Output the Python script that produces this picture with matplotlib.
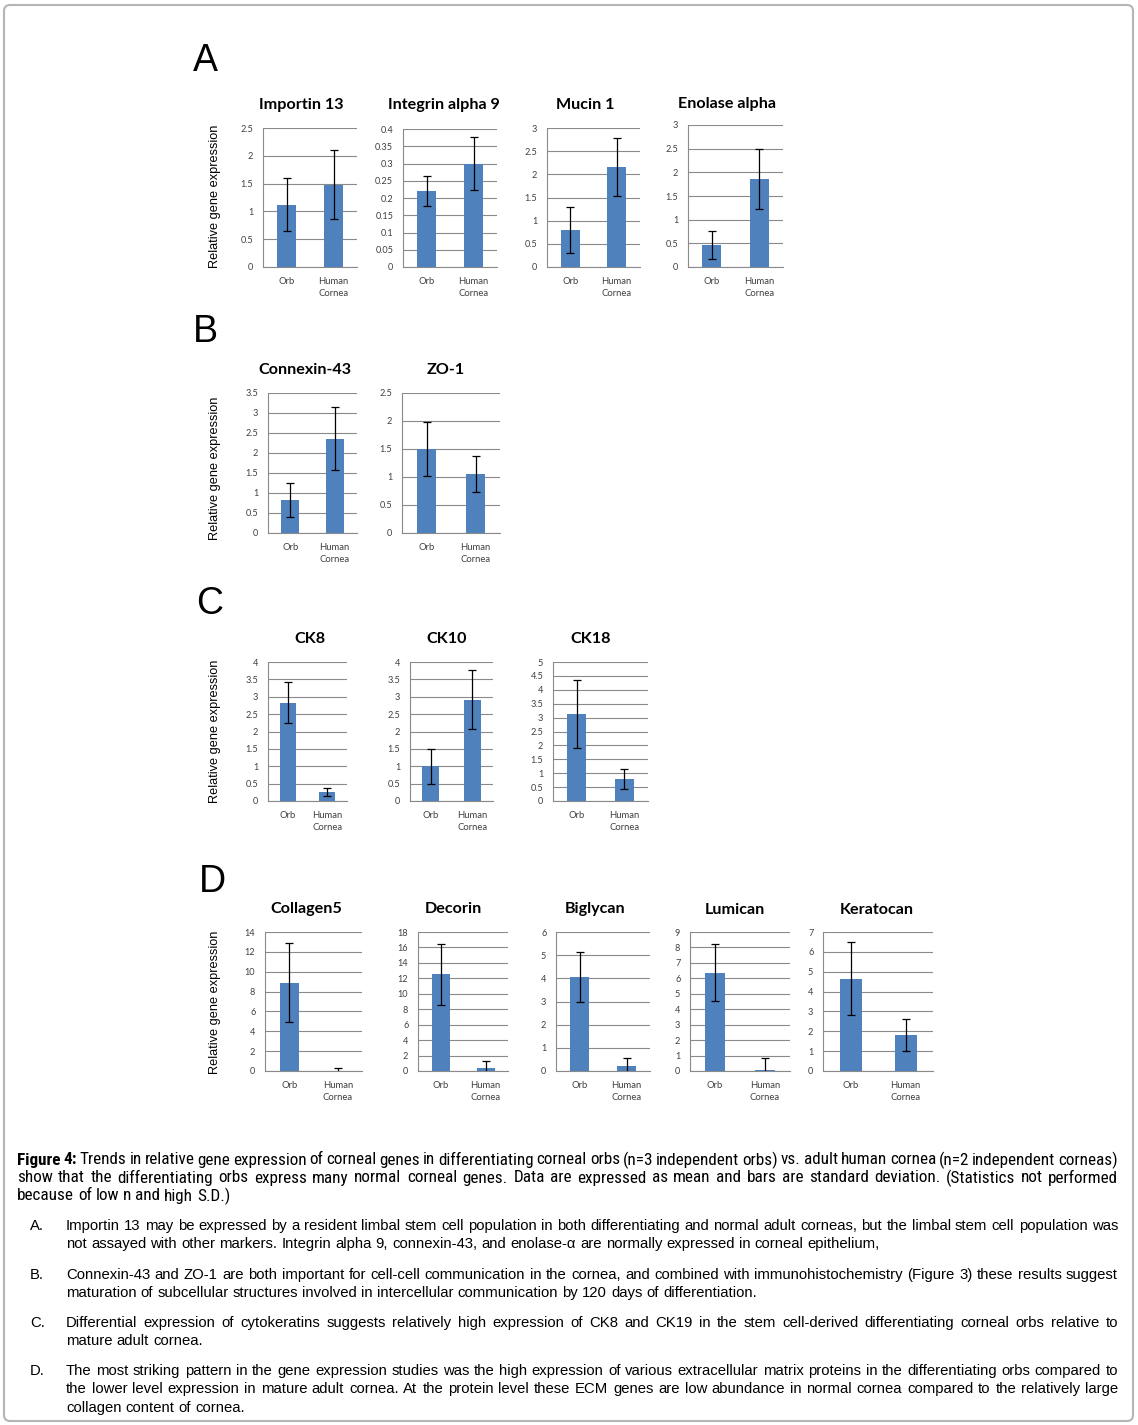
import matplotlib
matplotlib.use("Agg")
import matplotlib.pyplot as plt
from matplotlib import font_manager
from matplotlib.patches import FancyBboxPatch
from matplotlib.transforms import IdentityTransform
from matplotlib.font_manager import FontProperties

# ---------------- data ----------------
categories = ["Orb", "Human\nCornea"]

genes = ["Importin 13", "Integrin alpha 9", "Mucin 1", "Enolase alpha",
         "Connexin-43", "ZO-1",
         "CK8", "CK10", "CK18",
         "Collagen5", "Decorin", "Biglycan", "Lumican", "Keratocan"]
orb_mean = [1.12, 0.22, 0.80, 0.47, 0.83, 1.50, 2.83, 1.00, 3.12, 8.9, 12.5, 4.05, 6.37, 4.65]
orb_sd = [0.48, 0.043, 0.49, 0.30, 0.43, 0.49, 0.59, 0.51, 1.23, 4.0, 4.0, 1.07, 1.83, 1.85]
cornea_mean = [1.48, 0.30, 2.16, 1.86, 2.36, 1.06, 0.25, 2.91, 0.80, 0.05, 0.35, 0.20, 0.05, 1.82]
cornea_sd = [0.62, 0.078, 0.62, 0.63, 0.79, 0.32, 0.11, 0.85, 0.36, 0.28, 0.98, 0.38, 0.78, 0.79]
y_max = [2.5, 0.4, 3, 3, 3.5, 2.5, 4, 4, 5, 14, 18, 6, 9, 7]
y_step = [0.5, 0.05, 0.5, 0.5, 0.5, 0.5, 0.5, 0.5, 0.5, 2, 2, 1, 1, 1]
panel_letters = ["A", "B", "C", "D"]
ylabel_text = "Relative gene expression"

caption_para = [
    [("Figure 4:", True), ("Trends in relative gene expression of corneal genes in differentiating corneal orbs (n=3 independent orbs) vs. adult human cornea (n=2 independent corneas)", False)],
    [("show that the differentiating orbs express many normal corneal genes.  Data are expressed as mean and bars are standard deviation.  (Statistics not performed", False)],
    [("because of low n and high S.D.)", False)],
]
items = [
    ("A.", ["Importin 13 may be expressed by a resident limbal stem cell population in both differentiating and normal adult corneas, but the limbal stem cell population was",
            "not assayed with other markers.   Integrin alpha 9, connexin-43, and enolase-\u03b1 are normally expressed in corneal epithelium,"]),
    ("B.", ["Connexin-43 and ZO-1 are both important for cell-cell communication in the cornea, and combined with immunohistochemistry (Figure 3) these results suggest",
            "maturation of subcellular structures involved in intercellular communication by 120 days of differentiation."]),
    ("C.", ["Differential expression of cytokeratins suggests relatively high expression of CK8 and CK19 in the stem cell-derived differentiating corneal orbs relative to",
            "mature adult cornea."]),
    ("D.", ["The most striking pattern in the gene expression studies was the high expression of various extracellular matrix proteins in the differentiating orbs compared to",
            "the lower level expression in mature adult cornea.  At the protein level these ECM genes are low abundance in normal cornea compared to the relatively large",
            "collagen content of cornea."]),
]

# ---------------- layout (pixels) ----------------
W, H = 1138, 1425
axes_px = [
    (263, 128, 357, 267, 301, 105), (403, 129, 497, 267, 444, 105),
    (547, 128, 640, 267, 585, 105), (688, 125, 783, 267, 727, 104),
    (268, 393, 357, 533, 305, 370), (402, 393, 500, 533, 446, 370),
    (268, 662, 347, 801, 310, 639), (410, 662, 493, 801, 447, 639),
    (553, 662, 648, 801, 591, 639),
    (265, 932, 362, 1071, 306, 909), (418, 932, 508, 1071, 453, 909),
    (556, 932, 650, 1071, 595, 909), (690, 932, 790, 1071, 735, 910),
    (823, 932, 933, 1071, 877, 910),
]
letters_px = [(193, 61), (193, 332), (196, 604), (199, 882)]
ylabel_px = [(215, 196), (215, 468), (215, 731), (215, 1002)]

names = {f.name for f in font_manager.fontManager.ttflist}
title_font = "Lato" if "Lato" in names else "DejaVu Sans"

# look for a narrow / condensed sans font for the caption paragraph
narrow_reg = None
narrow_bold = None
pref = ["Liberation Sans Narrow", "Roboto Condensed", "Open Sans Condensed", "DejaVu Sans"]
for pname in pref:
    cands = [f for f in font_manager.fontManager.ttflist if f.name == pname and
             (("Narrow" in f.name) or ("Condensed" in f.name) or
              (str(f.stretch) in ("condensed", "semi-condensed")) or
              ("Condensed" in f.fname))]
    if cands:
        regs = [f for f in cands if f.weight in (400, "normal", "regular") and f.style == "normal"]
        bolds = [f for f in cands if f.weight in (700, "bold") and f.style == "normal"]
        if regs:
            narrow_reg = regs[0].fname
            narrow_bold = bolds[0].fname if bolds else regs[0].fname
            break

fig = plt.figure(figsize=(W / 100, H / 100), dpi=100)
fig.patch.set_facecolor("white")

def fx(x):
    return x / W

def fy(y):
    return 1 - y / H

GRID = "#8a8a8a"
BAR = "#4f81bd"

for i, g in enumerate(genes):
    l, t, r, b, tx, ty = axes_px[i]
    ax = fig.add_axes([fx(l), fy(b), (r - l) / W, (b - t) / H])
    ax.bar([0, 1], [orb_mean[i], cornea_mean[i]], width=0.4, color=BAR, zorder=3)
    ax.errorbar([0, 1], [orb_mean[i], cornea_mean[i]], yerr=[orb_sd[i], cornea_sd[i]],
                fmt="none", ecolor="black", elinewidth=0.9, capsize=3, capthick=0.9, zorder=4)
    ax.set_xlim(-0.5, 1.5)
    ax.set_ylim(0, y_max[i])
    n = int(round(y_max[i] / y_step[i]))
    ticks = [k * y_step[i] for k in range(n + 1)]
    ax.set_yticks(ticks)
    ax.set_yticklabels([("%g" % round(v, 3)) for v in ticks], fontsize=6.6, color="#404040",
                       fontfamily=title_font)
    ax.set_xticks([0, 1])
    ax.set_xticklabels(categories, fontsize=6.8, color="#404040", fontfamily=title_font,
                       linespacing=1.4, va="top")
    ax.tick_params(axis="both", length=0, pad=7)
    ax.yaxis.grid(True, color=GRID, lw=0.8, zorder=0)
    for s in ["top", "right"]:
        ax.spines[s].set_visible(False)
    ax.spines["left"].set_color(GRID)
    ax.spines["bottom"].set_color(GRID)
    ax.spines["left"].set_linewidth(0.8)
    ax.spines["bottom"].set_linewidth(0.8)
    ax.set_facecolor("none")
    fig.text(fx(tx), fy(ty), g, ha="center", va="center", fontsize=11.6,
             fontweight="bold", fontfamily=title_font, color="black")

for (x, y), L in zip(letters_px, panel_letters):
    fig.text(fx(x), fy(y), L, ha="left", va="center", fontsize=27,
             fontfamily="Liberation Sans", color="black")
for (x, y) in ylabel_px:
    fig.text(fx(x), fy(y), ylabel_text, rotation=90, ha="center", va="center",
             fontsize=9.2, fontfamily="Liberation Sans", color="black")

# ---------------- caption ----------------
renderer = fig.canvas.get_renderer()

def make_fp(kind, size, bold):
    if kind == "narrow" and narrow_reg is not None:
        return FontProperties(fname=narrow_bold if bold else narrow_reg, size=size)
    return FontProperties(family="Liberation Sans", size=size, weight="bold" if bold else "normal")

def measure(word, fp):
    t = fig.text(0, 0, word, fontproperties=fp)
    w = t.get_window_extent(renderer).width
    t.remove()
    return w

def calibrate(kind, sample, target, lo, hi):
    w10 = measure(sample, make_fp(kind, 10, False))
    s = 10 * target / w10
    return max(lo, min(hi, s))

cap_size = calibrate("narrow", "because of low n and high S.D.)", 213, 8, 12.5)
if narrow_reg is None:
    cap_size = min(cap_size, 10.3)
list_size = calibrate("reg", "mature adult cornea.", 137, 9, 12)

def draw_line(tokens, x0, x1, y, justify, kind, size):
    words = []
    for txt, bold in tokens:
        fp = make_fp(kind, size, bold)
        for w in txt.split():
            words.append((w, fp))
    widths = [measure(w, fp) for w, fp in words]
    space = measure("a b", words[0][1]) - measure("ab", words[0][1])
    if justify and len(words) > 1:
        gap = (x1 - x0 - sum(widths)) / (len(words) - 1)
    else:
        gap = space
    x = x0
    for (w, fp), wd in zip(words, widths):
        fig.text(fx(x), fy(y), w, fontproperties=fp, ha="left", va="center", color="black")
        x += wd + gap

cap_y = [1160, 1178, 1196]
for k, (tokens, y) in enumerate(zip(caption_para, cap_y)):
    draw_line(tokens, 17, 1118, y, k < len(caption_para) - 1, "narrow", cap_size)

item_y = [[1226, 1244], [1275, 1293], [1323, 1341], [1371, 1389, 1408]]
for (lab, lines), ys in zip(items, item_y):
    fig.text(fx(30), fy(ys[0]), lab, fontsize=list_size, fontfamily="Liberation Sans",
             ha="left", va="center", color="black")
    for k, (ln, y) in enumerate(zip(lines, ys)):
        draw_line([(ln, False)], 66, 1118, y, k < len(lines) - 1, "reg", list_size)

# border
border = FancyBboxPatch((4, 4), W - 9, H - 9, boxstyle="round,pad=0,rounding_size=6",
                        transform=IdentityTransform(), facecolor="none",
                        edgecolor="#b5b5b5", lw=1.5)
fig.patches.append(border)

fig.savefig("out.png", dpi=100, facecolor="white")
